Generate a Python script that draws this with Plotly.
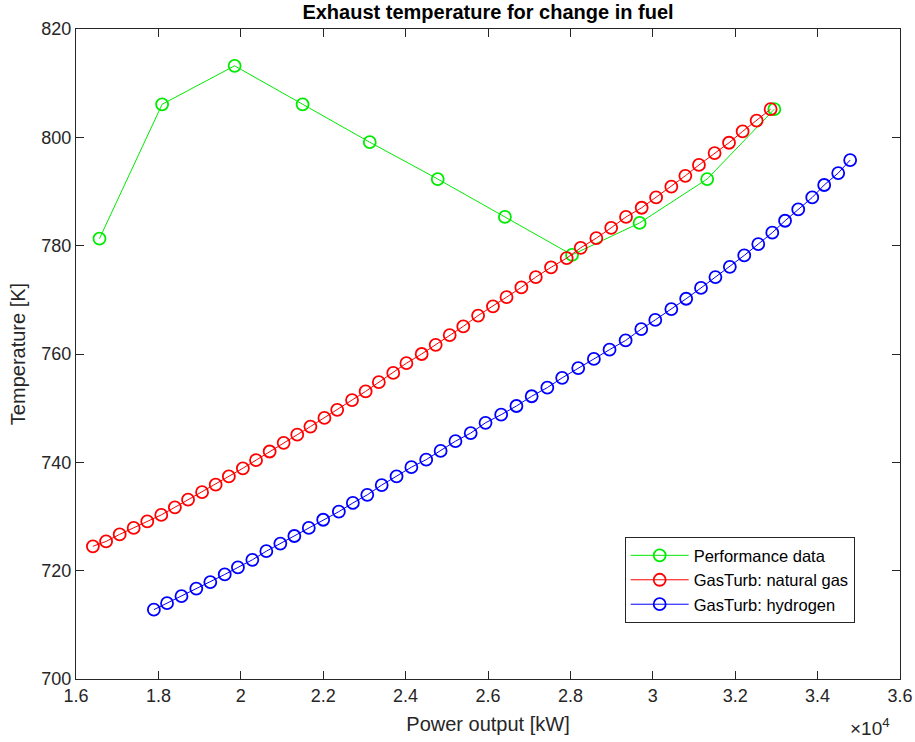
import plotly.graph_objects as go

# ---------------- data (power in kW, temperature in K) ----------------
perf_power = [16570, 18090, 19850, 21500, 23130, 24780, 26410, 28040, 29680, 31320, 32950]
perf_temp = [781.3, 806.1, 813.2, 806.1, 799.1, 792.3, 785.3, 778.3, 784.2, 792.3, 805.2]

ng_power = [16410, 16730, 17060, 17400, 17730, 18070, 18400, 18720, 19060, 19390,
            19710, 20050, 20370, 20700, 21040, 21370, 21690, 22030, 22340, 22700,
            23030, 23350, 23700, 24020, 24390, 24730, 25070, 25400, 25760, 26120,
            26450, 26810, 27160, 27530, 27910, 28250, 28630, 28990, 29350, 29730,
            30080, 30450, 30790, 31120, 31500, 31850, 32180, 32520, 32860]
ng_temp = [724.5, 725.4, 726.7, 727.9, 729.1, 730.3, 731.7, 733.1, 734.5, 735.9,
           737.4, 738.9, 740.4, 742.0, 743.6, 745.1, 746.6, 748.2, 749.7, 751.5,
           753.1, 754.8, 756.5, 758.3, 760.0, 761.7, 763.5, 765.1, 767.1, 768.8,
           770.5, 772.3, 774.2, 776.0, 777.7, 779.6, 781.4, 783.3, 785.3, 787.0,
           788.9, 790.9, 792.9, 794.9, 797.1, 799.0, 801.1, 803.1, 805.2]

h2_power = [17890, 18210, 18560, 18920, 19260, 19610, 19930, 20280, 20620, 20960,
            21300, 21650, 22000, 22380, 22720, 23070, 23420, 23780, 24140, 24500,
            24850, 25210, 25580, 25940, 26320, 26690, 27060, 27440, 27800, 28190,
            28570, 28950, 29340, 29720, 30060, 30450, 30810, 31170, 31520, 31870,
            32220, 32560, 32900, 33210, 33530, 33870, 34160, 34500, 34790]
h2_temp = [712.8, 714.0, 715.3, 716.7, 717.9, 719.3, 720.6, 722.0, 723.6, 725.0,
           726.4, 727.9, 729.4, 730.9, 732.5, 734.0, 735.8, 737.4, 739.1, 740.5,
           742.1, 743.9, 745.4, 747.3, 748.8, 750.4, 752.2, 753.8, 755.6, 757.4,
           759.1, 760.8, 762.5, 764.6, 766.3, 768.3, 770.2, 772.2, 774.2, 776.1,
           778.2, 780.3, 782.4, 784.6, 786.7, 788.9, 791.2, 793.4, 795.8]

x_tickvals = [16000, 18000, 20000, 22000, 24000, 26000, 28000, 30000, 32000, 34000, 36000]
x_ticktext = ["1.6", "1.8", "2", "2.2", "2.4", "2.6", "2.8", "3", "3.2", "3.4", "3.6"]
y_tickvals = [700, 720, 740, 760, 780, 800, 820]

FONT = "Liberation Sans, Arial, Helvetica, sans-serif"
AX = "#262626"

fig = go.Figure()
series = [
    ("Performance data", perf_power, perf_temp, "rgb(0,235,0)"),
    ("GasTurb: natural gas", ng_power, ng_temp, "rgb(255,0,0)"),
    ("GasTurb: hydrogen", h2_power, h2_temp, "rgb(0,0,255)"),
]
for name, xs, ys, col in series:
    fig.add_trace(go.Scatter(
        x=xs, y=ys, name=name, mode="lines+markers",
        line=dict(color=col, width=1),
        marker=dict(symbol="circle-open", size=12, color=col, line=dict(width=1.8, color=col)),
    ))

axis_common = dict(
    showgrid=False, zeroline=False, showline=True, linecolor=AX, linewidth=1,
    mirror="ticks", ticks="inside", ticklen=8, tickcolor=AX, tickwidth=1,
    tickfont=dict(family=FONT, size=18, color=AX), automargin=False,
)

fig.update_layout(
    width=915, height=742,
    margin=dict(l=76, r=15, t=29, b=63, autoexpand=False),
    paper_bgcolor="white", plot_bgcolor="white",
    font=dict(family=FONT, color=AX),
    title=dict(text="<b>Exhaust temperature for change in fuel</b>",
               font=dict(family=FONT, size=20, color="black"),
               x=0.5, xref="paper", xanchor="center", y=0.984, yref="container", yanchor="middle"),
    xaxis=dict(range=[16000, 36000], tickvals=x_tickvals, ticktext=x_ticktext,
               title=dict(text="Power output [kW]", font=dict(family=FONT, size=20, color=AX), standoff=12),
               **axis_common),
    yaxis=dict(range=[700, 820], tickvals=y_tickvals,
               title=dict(text="Temperature [K]", font=dict(family=FONT, size=20, color=AX), standoff=10),
               **axis_common),
    legend=dict(x=0.945, y=0.086, xanchor="right", yanchor="bottom",
                bgcolor="white", bordercolor=AX, borderwidth=1,
                font=dict(family=FONT, size=16.5, color="black"),
                tracegroupgap=0, itemwidth=58),
    showlegend=True,
)

fig.add_annotation(text="×10<sup>4</sup>", xref="paper", yref="paper",
                   x=0.990, y=-0.074, xanchor="right", yanchor="middle", showarrow=False,
                   font=dict(family=FONT, size=19, color=AX))

fig.write_html("out.html")
